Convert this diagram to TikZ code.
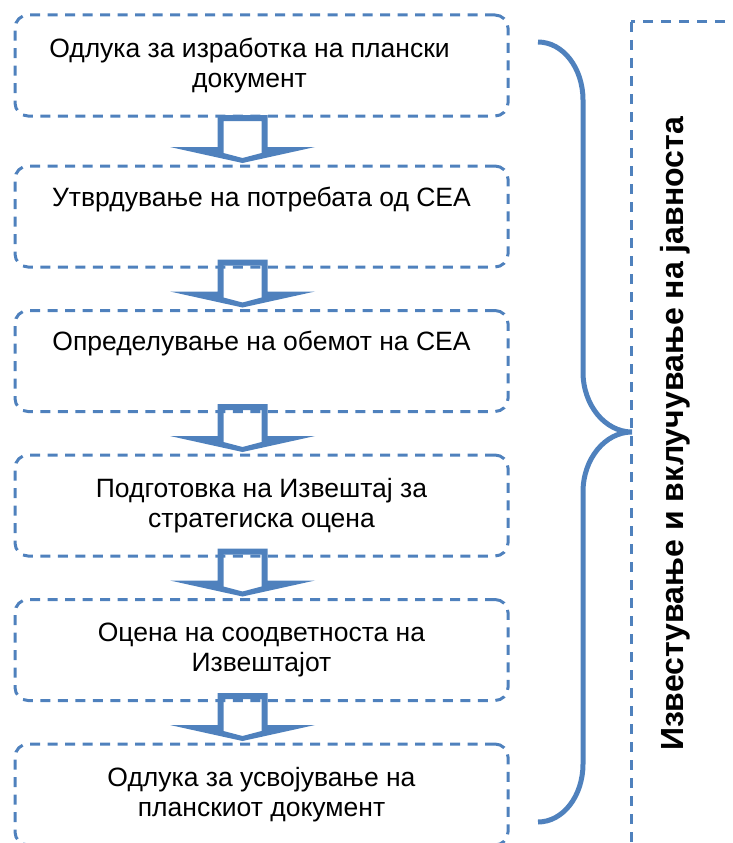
\documentclass[tikz,border=0pt]{standalone}
\usepackage{fontspec}
\setmainfont{Liberation Sans}
\usetikzlibrary{positioning, calc}
\definecolor{flowblue}{RGB}{79,129,189}
\tikzset{
x=1pt, y=-1pt, % pixel units, y runs downwards
node distance=40.5pt, % gap between two steps
stepbox/.style={draw=flowblue, line width=3pt, dash pattern=on 10pt off 7.5pt, rounded corners=13pt,
  minimum width=493pt, minimum height=101pt, inner sep=0pt, align=center,
  font=\fontsize{26.5}{30.5}\selectfont}, % dashed box of one step
stepline/.style={draw=flowblue, line width=3pt, dash pattern=on 10pt off 8pt}, % frame on the right
blockarrow/.style={fill=flowblue, even odd rule}, % hollow arrow between steps
bracket/.style={draw=flowblue, line width=5pt}, % the big brace
}

\begin{document}
\begin{tikzpicture}
    \useasboundingbox (0,0) rectangle (733,843);
    \clip (0,0) rectangle (733,843);

    \node[stepbox] (b1) at (261.5,65.5) {\hspace*{-24pt}Одлука за изработка на плански\\\hspace*{-24pt}документ};
    \node[stepbox, below=47pt of b1] (b2) {Утврдување на потребата од СЕА\\\strut};
    \node[stepbox, below=of b2] (b3) {Определување на обемот на СЕА\\\strut};
    \node[stepbox, below=of b3] (b4) {Подготовка на Извештај за\\стратегиска оцена};
    \node[stepbox, below=of b4] (b5) {Оцена на соодветноста на\\Извештајот};
    \node[stepbox, below=of b5] (b6) {Одлука за усвојување на\\планскиот документ};

    % arrows from one step to the next
    \foreach \from/\to in {b1/b2, b2/b3, b3/b4, b4/b5, b5/b6}
      \fill[blockarrow, shift={($(\to.north)+(-19,-1.5)$)}]
        (-25,-48) -- (25,-48) -- (25,-16) -- (72.5,-16) -- (0,0) -- (-72.5,-16) -- (-25,-16) -- cycle
        (-19,-42) -- (19,-42) -- (19,-10) -- (0,-5) -- (-19,-10) -- cycle;

    % brace and public part
    \draw[stepline] (631,22) rectangle (790,900);
    \node[rotate=90, anchor=base, font=\fontsize{32}{38}\selectfont\bfseries] (pub) at (683,434)
        {Известување и вклучување на јавноста};
    \draw[bracket] (538,42) .. controls (563,42) and (583,68) .. (583,100) -- (583,372)
        .. controls (583,405) and (605,432) .. (632,432)
        .. controls (605,432) and (583,459) .. (583,492) -- (583,764)
        .. controls (583,796) and (563,822) .. (538,822);
\end{tikzpicture}
\end{document}
